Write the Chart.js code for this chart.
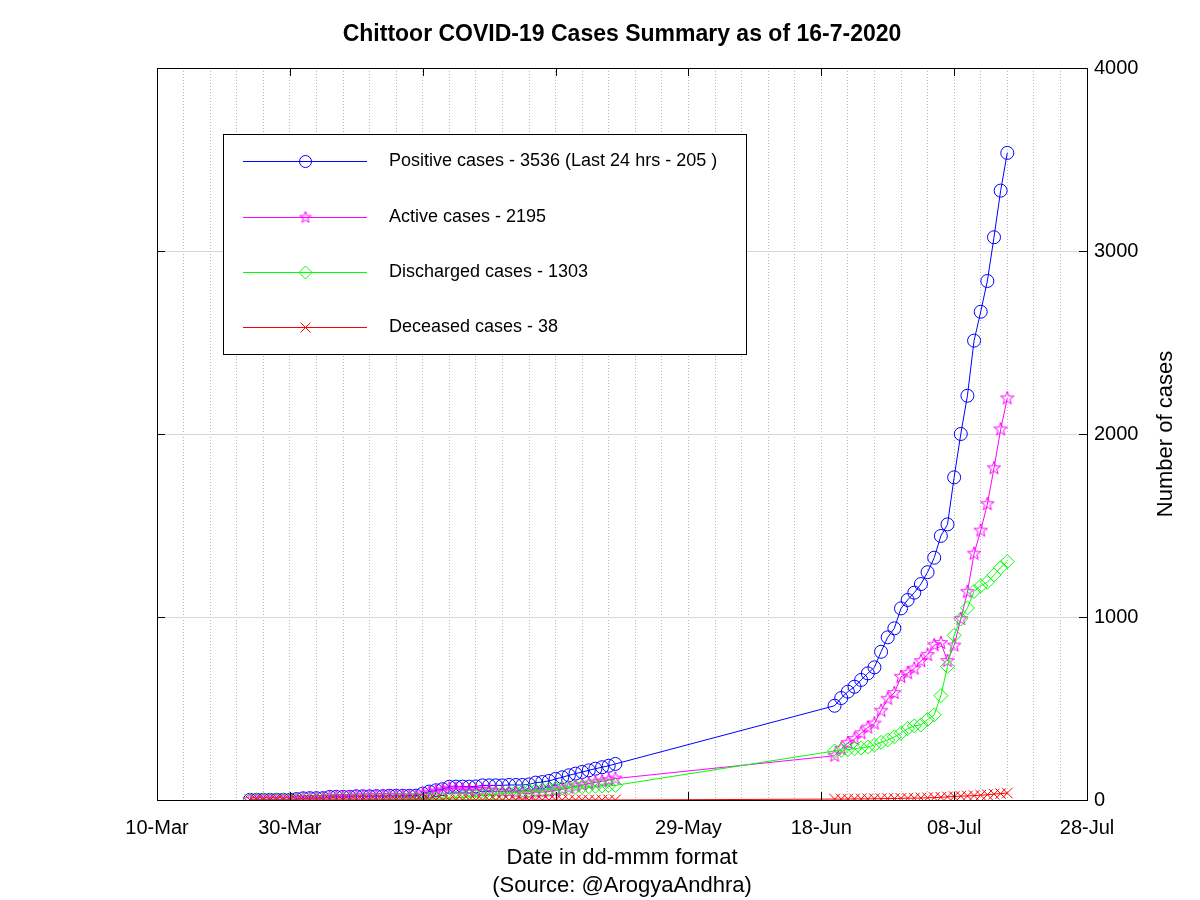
<!DOCTYPE html>
<html>
<head>
<meta charset="utf-8">
<title>Chittoor COVID-19 Cases Summary</title>
<script src="https://cdn.jsdelivr.net/npm/chart.js@4.4.1/dist/chart.umd.min.js"></script>
<style>
  html, body { margin: 0; padding: 0; background: #fff; }
  #wrap { width: 1200px; height: 900px; }
</style>
</head>
<body>
<div id="wrap"><canvas id="chart" width="1200" height="900"></canvas></div>
<script>
// Two runs of daily counts: 24-Mar .. 18-May, then 20-Jun .. 16-Jul
const axisStart = '2020-03-10';
const firstRunStart = '2020-03-24';
const secondRunStart = '2020-06-20';

const dateTicks = ['10-Mar', '30-Mar', '19-Apr', '09-May', '29-May', '18-Jun', '08-Jul', '28-Jul'];
const caseTicks = [0, 1000, 2000, 3000, 4000];

const positiveFirst = [1, 1, 1, 1, 1, 1, 1, 5, 9, 10, 10, 10, 17, 17, 17, 17, 20, 20, 20, 21, 21, 23, 23, 23, 23, 24, 35, 46,
  53, 59, 72, 73, 73, 73, 74, 80, 80, 80, 80, 82, 82, 82, 85, 95, 98, 104, 115, 124, 135, 144, 153, 162, 171, 179, 187, 197];
const activeFirst = [1, 1, 1, 1, 1, 1, 1, 5, 9, 10, 10, 10, 17, 17, 17, 17, 20, 20, 20, 21, 21, 22, 22, 20, 19, 20, 31, 40,
  47, 53, 62, 61, 58, 55, 54, 55, 52, 47, 45, 44, 40, 37, 35, 43, 43, 46, 53, 59, 67, 74, 81, 89, 96, 102, 109, 117];
const dischargedFirst = [0, 0, 0, 0, 0, 0, 0, 0, 0, 0, 0, 0, 0, 0, 0, 0, 0, 0, 0, 0, 0, 1, 1, 3, 4, 4, 4, 6,
  6, 6, 10, 12, 15, 18, 20, 25, 28, 33, 35, 38, 42, 45, 50, 52, 55, 58, 62, 65, 68, 70, 72, 73, 75, 77, 78, 80];
const deceasedFirst = [0, 0, 0, 0, 0, 0, 0, 0, 0, 0, 0, 0, 0, 0, 0, 0, 0, 0, 0, 0, 0, 0, 0, 0, 0, 0, 0, 0,
  0, 0, 0, 0, 0, 0, 0, 0, 0, 0, 0, 0, 0, 0, 0, 0, 0, 0, 0, 0, 0, 0, 0, 0, 0, 0, 0, 0];

const positiveSecond = [515, 557, 592, 619, 656, 692, 725, 810, 889, 938, 1047, 1093, 1133, 1180, 1245, 1324, 1443,
  1506, 1763, 2000, 2209, 2510, 2668, 2836, 3075, 3330, 3536];
const activeSecond = [242, 280, 312, 333, 365, 396, 418, 488, 553, 585, 673, 693, 718, 759, 793, 846, 858,
  760, 844, 989, 1137, 1346, 1472, 1617, 1813, 2025, 2195];
const dischargedSecond = [268, 272, 275, 280, 285, 290, 300, 315, 328, 345, 365, 390, 405, 410, 440, 465, 570,
  729, 900, 990, 1050, 1140, 1170, 1190, 1230, 1270, 1303];
const deceasedSecond = [5, 5, 5, 6, 6, 6, 7, 7, 8, 8, 9, 10, 10, 11, 12, 13, 15,
  17, 19, 21, 22, 24, 26, 29, 32, 35, 38];

const seriesLabels = [
  'Positive cases - 3536 (Last 24 hrs - 205 )',
  'Active cases - 2195',
  'Discharged cases - 1303',
  'Deceased cases - 38'
];

const FONT = "'Liberation Sans', Arial, Helvetica, sans-serif";
const DAY = 86400000;

function dayOf(iso) {
  return Math.round((Date.parse(iso) - Date.parse(axisStart)) / DAY);
}

// join both runs into {x: day, y: value} points
function toPoints(first, second) {
  const a = dayOf(firstRunStart), b = dayOf(secondRunStart);
  return first.map((v, i) => ({ x: a + i, y: v }))
    .concat(second.map((v, i) => ({ x: b + i, y: v })));
}

// octave style pentagram outline, used as point image
function starImage(color, r) {
  const size = Math.ceil(r * 2 + 4);
  const c = document.createElement('canvas');
  c.width = c.height = size;
  const g = c.getContext('2d');
  g.strokeStyle = color;
  g.lineWidth = 1;
  g.beginPath();
  for (let k = 0; k < 10; k++) {
    const rad = k % 2 === 0 ? r : r * 0.4;
    const ang = -Math.PI / 2 + k * Math.PI / 5;
    const px = size / 2 + rad * Math.cos(ang), py = size / 2 + rad * Math.sin(ang);
    if (k === 0) g.moveTo(px, py); else g.lineTo(px, py);
  }
  g.closePath();
  g.stroke();
  return c;
}

const starPoint = starImage('#ff00ff', 7);
const starSmall = starImage('#ff00ff', 6);

function drawMarker(ctx, style, x, y, color) {
  ctx.save();
  ctx.strokeStyle = color;
  ctx.lineWidth = 1;
  ctx.beginPath();
  if (style === 'circle') {
    ctx.arc(x, y, 6, 0, Math.PI * 2);
  } else if (style === 'rectRot') {
    ctx.moveTo(x - 6.5, y); ctx.lineTo(x, y - 6.5); ctx.lineTo(x + 6.5, y); ctx.lineTo(x, y + 6.5); ctx.closePath();
  } else if (style === 'crossRot') {
    ctx.moveTo(x - 5, y - 5); ctx.lineTo(x + 5, y + 5);
    ctx.moveTo(x + 5, y - 5); ctx.lineTo(x - 5, y + 5);
  } else {
    ctx.drawImage(starSmall, x - starSmall.width / 2, y - starSmall.height / 2);
  }
  ctx.stroke();
  ctx.restore();
}

// box, inward tick marks, right-hand axis title and in-plot legend
const framePlugin = {
  id: 'frame',
  afterDatasetsDraw(chart) {
    const { ctx, chartArea: a, scales } = chart;
    ctx.save();
    ctx.strokeStyle = '#000';
    ctx.lineWidth = 1;
    ctx.beginPath();
    scales.x.ticks.forEach(t => {
      if (t.value % 20 !== 0) return;
      const px = Math.round(scales.x.getPixelForValue(t.value)) + 0.5;
      ctx.moveTo(px, a.bottom); ctx.lineTo(px, a.bottom - 8);
      ctx.moveTo(px, a.top); ctx.lineTo(px, a.top + 8);
    });
    scales.y.ticks.forEach(t => {
      const py = Math.round(scales.y.getPixelForValue(t.value)) + 0.5;
      ctx.moveTo(a.left, py); ctx.lineTo(a.left + 8, py);
      ctx.moveTo(a.right, py); ctx.lineTo(a.right - 8, py);
    });
    ctx.stroke();
    ctx.strokeRect(Math.round(a.left) + 0.5, Math.round(a.top) + 0.5,
      Math.round(a.right - a.left), Math.round(a.bottom - a.top));
    ctx.restore();
  },
  afterDraw(chart) {
    const { ctx, chartArea: a } = chart;
    ctx.save();
    // y title on the right, reading upwards
    ctx.translate(1166, (a.top + a.bottom) / 2);
    ctx.rotate(-Math.PI / 2);
    ctx.fillStyle = '#000';
    ctx.font = '22px ' + FONT;
    ctx.textAlign = 'center';
    ctx.textBaseline = 'middle';
    ctx.fillText('Number of cases', 0, 0);
    ctx.restore();

    // legend box
    const bx = 223.5, by = 134.5, bw = 523, bh = 220;
    ctx.save();
    ctx.fillStyle = '#fff';
    ctx.fillRect(bx, by, bw, bh);
    ctx.strokeStyle = '#000';
    ctx.lineWidth = 1;
    ctx.strokeRect(bx, by, bw, bh);
    const rows = [161, 217, 272, 327];
    chart.data.datasets.forEach((ds, i) => {
      const y = rows[i] + 0.5;
      ctx.strokeStyle = ds.borderColor;
      ctx.beginPath();
      ctx.moveTo(243, y); ctx.lineTo(367, y);
      ctx.stroke();
      drawMarker(ctx, typeof ds.pointStyle === 'string' ? ds.pointStyle : 'star', 305.5, y, ds.borderColor);
      ctx.fillStyle = '#000';
      ctx.font = '18px ' + FONT;
      ctx.textAlign = 'left';
      ctx.textBaseline = 'middle';
      ctx.fillText(ds.label, 389, y);
    });
    ctx.restore();
  }
};

function series(label, color, style, radius, first, second, order) {
  return {
    label: label,
    data: toPoints(first, second),
    borderColor: color,
    backgroundColor: 'rgba(0,0,0,0)',
    borderWidth: 1,
    pointStyle: style,
    pointRadius: radius,
    pointBorderWidth: 1,
    pointBorderColor: color,
    pointBackgroundColor: 'rgba(0,0,0,0)',
    tension: 0,
    order: order
  };
}

new Chart(document.getElementById('chart'), {
  type: 'line',
  data: {
    datasets: [
      series(seriesLabels[0], '#0000ff', 'circle', 6.5, positiveFirst, positiveSecond, 4),
      series(seriesLabels[1], '#ff00ff', starPoint, 7, activeFirst, activeSecond, 3),
      series(seriesLabels[2], '#00ff00', 'rectRot', 7, dischargedFirst, dischargedSecond, 2),
      series(seriesLabels[3], '#ff0000', 'crossRot', 7.5, deceasedFirst, deceasedSecond, 1)
    ]
  },
  options: {
    responsive: false,
    animation: false,
    events: [],
    layout: { padding: { left: 157, right: 0, top: 0, bottom: 0 } },
    plugins: {
      legend: { display: false },
      tooltip: { enabled: false },
      title: {
        display: true,
        fullSize: false,
        text: 'Chittoor COVID-19 Cases Summary as of 16-7-2020',
        color: '#000',
        font: { family: FONT, size: 23, weight: 'bold' },
        padding: { top: 21.2, bottom: 19.2 }
      }
    },
    scales: {
      x: {
        type: 'linear',
        min: 0,
        max: 140,
        afterFit(scale) { scale.height = 100; },
        ticks: {
          stepSize: 4,
          maxTicksLimit: 100,
          autoSkip: false,
          maxRotation: 0,
          padding: 16,
          color: '#000',
          font: { family: FONT, size: 20 },
          callback: v => (v % 20 === 0 ? dateTicks[v / 20] : '')
        },
        grid: { color: '#b8b8b8', lineWidth: 1, drawTicks: false },
        border: { display: false, dash: [1, 2] },
        title: {
          display: true,
          text: ['Date in dd-mmm format', '(Source: @ArogyaAndhra)'],
          color: '#000',
          font: { family: FONT, size: 22, lineHeight: 28 / 22 },
          padding: { top: 0, bottom: 0 }
        }
      },
      y: {
        position: 'right',
        min: 0,
        max: 4000,
        afterFit(scale) { scale.width = 113; },
        afterBuildTicks(scale) { scale.ticks = caseTicks.map(v => ({ value: v })); },
        ticks: {
          padding: 7,
          color: '#000',
          font: { family: FONT, size: 20 },
          callback: v => String(v)
        },
        grid: { color: '#d6d6d6', lineWidth: 1, drawTicks: false },
        border: { display: false }
      }
    }
  },
  plugins: [framePlugin]
});
</script>
</body>
</html>
